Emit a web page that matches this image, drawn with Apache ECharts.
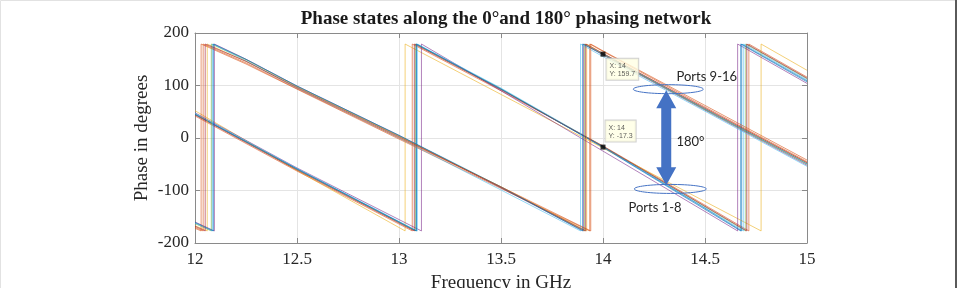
<!DOCTYPE html>
<html>
<head>
<meta charset="utf-8">
<title>Phase states along the 0 and 180 phasing network</title>
<script src="https://cdn.jsdelivr.net/npm/echarts@6/dist/echarts.min.js"></script>
<style>
html, body { margin: 0; padding: 0; background: #fff; }
#chart { width: 959px; height: 288px; }
</style>
</head>
<body>
<div id="chart"></div>
<script>
// ports 1-8, [frequency GHz, phase deg], wraps drawn as two points at same x
let port1 = [[12, 46], [12.5, -59], [13.085, -177], [13.085, 179], [13.5, 94], [14, -18], [14.5, -136], [14.675, -177], [14.675, 179], [15, 107]];
let port2 = [[12, 42], [12.5, -63], [13.065, -177], [13.065, 179], [13.5, 90], [14, -15], [14.5, -128], [14.715, -177], [14.715, 179], [15, 116]];
let port3 = [[12, 52], [12.5, -62], [13.03, -177], [13.03, 179], [13.5, 83], [14, -19], [14.5, -121], [14.775, -177], [14.775, 179], [15, 129]];
let port4 = [[12, 48], [12.5, -57], [13.11, -177], [13.11, 179], [13.5, 90], [14, -25], [14.5, -140], [14.66, -177], [14.66, 179], [15, 104]];
let port5 = [[12, 45], [12.5, -60], [13.08, -177], [13.08, 179], [13.5, 93], [14, -16], [14.5, -131], [14.7, -177], [14.7, 179], [15, 113]];
let port6 = [[12, 47], [12.5, -58], [13.09, -177], [13.09, 179], [13.5, 95], [14, -16], [14.5, -133], [14.69, -177], [14.69, 179], [15, 111]];
let port7 = [[12, 44], [12.5, -61], [13.075, -177], [13.075, 179], [13.5, 92], [14, -16], [14.5, -130], [14.705, -177], [14.705, 179], [15, 114]];
let port8 = [[12, 45], [12.5, -59], [13.085, -177], [13.085, 179], [13.5, 93], [14, -17.3], [14.5, -134], [14.68, -177], [14.68, 179], [15, 109]];

// ports 9-16
let port9 = [[12, -172], [12.03, -177], [12.03, 179], [12.25, 141], [12.5, 93], [13, -2], [13.5, -96], [13.935, -177], [13.935, 179], [14, 165], [14.5, 59], [15, -45]];
let port10 = [[12, -167], [12.06, -177], [12.06, 179], [12.25, 146], [12.5, 97], [13, 3], [13.5, -93], [13.92, -177], [13.92, 179], [14, 161], [14.5, 56], [15, -47]];
let port11 = [[12, -160], [12.095, -177], [12.095, 179], [12.25, 150], [12.5, 99], [13, 5], [13.5, -95], [13.905, -177], [13.905, 179], [14, 158], [14.5, 53], [15, -52]];
let port12 = [[12, -163], [12.08, -177], [12.08, 179], [12.25, 149], [12.5, 98], [13, 4], [13.5, -94], [13.91, -177], [13.91, 179], [14, 159], [14.5, 54], [15, -50]];
let port13 = [[12, -162], [12.085, -177], [12.085, 179], [12.25, 147], [12.5, 95], [13, 0], [13.5, -99], [13.89, -177], [13.89, 179], [14, 155], [14.5, 51], [15, -54]];
let port14 = [[12, -168], [12.05, -177], [12.05, 179], [12.25, 146], [12.5, 96], [13, 2], [13.5, -94], [13.915, -177], [13.915, 179], [14, 161], [14.5, 57], [15, -47]];
let port15 = [[12, -161], [12.09, -177], [12.09, 179], [12.25, 150], [12.5, 99], [13, 5], [13.5, -93], [13.9, -177], [13.9, 179], [14, 159.7], [14.5, 55], [15, -49]];
let port16 = [[12, -170], [12.04, -177], [12.04, 179], [12.25, 143], [12.5, 94], [13, 0], [13.5, -93], [13.94, -177], [13.94, 179], [14, 166], [14.5, 62], [15, -42]];

let portData = [port1, port2, port3, port4, port5, port6, port7, port8,
    port9, port10, port11, port12, port13, port14, port15, port16];
// matlab default line colours
let portColors = ['#0072BD', '#D95319', '#EDB120', '#7E2F8E', '#77AC30', '#4DBEEE', '#A2142F'];

let tipPoints = [[14, 159.7], [14, -17.3]];

let serif = 'Liberation Serif';
let sans = 'Lato';

let myChart = echarts.init(document.getElementById('chart'));

let series = [];
for (let i in portData) {
    series.push({
        name: 'Port ' + (parseInt(i) + 1),
        type: 'line',
        data: portData[i],
        showSymbol: false,
        symbol: 'none',
        animation: false,
        lineStyle: {width: 1, color: portColors[i % 7], opacity: 0.6}
    });
}
series.push({
    type: 'scatter',
    symbol: 'rect',
    symbolSize: 5,
    itemStyle: {color: '#000'},
    animation: false,
    z: 5,
    data: [
        {value: tipPoints[0], label: {position: [6, 7]}},
        {value: tipPoints[1], label: {position: [5, -24]}}
    ],
    label: {
        show: true,
        formatter: function (p) { return 'X: ' + p.value[0] + '\nY: ' + p.value[1]; },
        fontFamily: 'Liberation Sans',
        fontSize: 7,
        lineHeight: 8,
        color: '#333',
        backgroundColor: '#FFFFE4',
        borderColor: '#C4C4C4',
        borderWidth: 1,
        padding: [3, 3, 2, 3]
    }
});

let axisGray = '#8A8A8A';
let option = {
    animation: false,
    title: {
        text: 'Phase states along the 0°and 180° phasing network',
        left: 501,
        top: 5,
        textAlign: 'center',
        textStyle: {fontFamily: serif, fontWeight: 'bold', fontSize: 19, color: '#1a1a1a'}
    },
    grid: {left: 195, right: 152, top: 33, bottom: 45, outerBoundsMode: 'none', containLabel: false},
    xAxis: [{
        type: 'value', min: 12, max: 15, interval: 0.5,
        name: 'Frequency in GHz', nameLocation: 'middle', nameGap: 31,
        nameTextStyle: {fontFamily: serif, fontSize: 19, color: '#262626'},
        axisLine: {show: true, onZero: false, lineStyle: {color: axisGray}},
        axisTick: {show: true, inside: true, length: 5, lineStyle: {color: axisGray}},
        axisLabel: {fontFamily: serif, fontSize: 17, color: '#262626', margin: 8},
        splitLine: {show: true, lineStyle: {color: '#E4E4E4'}}
    }, {
        type: 'value', min: 12, max: 15, interval: 0.5, position: 'top',
        axisLine: {show: true, onZero: false, lineStyle: {color: axisGray}},
        axisTick: {show: true, inside: true, length: 5, lineStyle: {color: axisGray}},
        axisLabel: {show: false},
        splitLine: {show: false}
    }],
    yAxis: [{
        type: 'value', min: -200, max: 200, interval: 100,
        name: 'Phase in degrees', nameLocation: 'middle', nameGap: 43, nameMoveOverlap: false,
        nameTextStyle: {fontFamily: serif, fontSize: 19, color: '#262626'},
        axisLine: {show: true, onZero: false, lineStyle: {color: axisGray}},
        axisTick: {show: true, inside: true, length: 5, lineStyle: {color: axisGray}},
        axisLabel: {fontFamily: serif, fontSize: 17, color: '#262626', margin: 6},
        splitLine: {show: true, lineStyle: {color: '#E4E4E4'}}
    }, {
        type: 'value', min: -200, max: 200, interval: 100, position: 'right',
        axisLine: {show: true, onZero: false, lineStyle: {color: axisGray}},
        axisTick: {show: true, inside: true, length: 5, lineStyle: {color: axisGray}},
        axisLabel: {show: false},
        splitLine: {show: false}
    }],
    series: series
};
myChart.setOption(option);

// annotations placed in data coordinates
function px(x, y) {
    return myChart.convertToPixel({gridIndex: 0}, [x, y]);
}

let annBlue = '#4472C4';
let upEll = px(14.32, 93);
let lowEll = px(14.33, -97);
let arrowTop = px(14.31, 91);
let arrowBot = px(14.31, -90);
let ax = arrowTop[0];
let headLen = 18, headW = 10, shaftW = 5;
let arrowPoints = [
    [ax, arrowTop[1]],
    [ax + headW, arrowTop[1] + headLen],
    [ax + shaftW, arrowTop[1] + headLen],
    [ax + shaftW, arrowBot[1] - headLen],
    [ax + headW, arrowBot[1] - headLen],
    [ax, arrowBot[1]],
    [ax - headW, arrowBot[1] - headLen],
    [ax - shaftW, arrowBot[1] - headLen],
    [ax - shaftW, arrowTop[1] + headLen],
    [ax - headW, arrowTop[1] + headLen]
];
let t916 = px(14.36, 116);
let t180 = px(14.36, -7);
let t18 = px(14.125, -133);

myChart.setOption({
    graphic: [
        {type: 'rect', shape: {x: 0.5, y: 0.5, width: 955, height: 290}, style: {fill: 'none', stroke: '#E2E2E2', lineWidth: 1}, z: 0},
        {type: 'line', shape: {x1: 956, y1: 0, x2: 956, y2: 288}, style: {stroke: '#5A5A5A', lineWidth: 2}},
        {type: 'ellipse', shape: {cx: upEll[0], cy: upEll[1], rx: 35, ry: 4.5}, style: {fill: 'none', stroke: annBlue, lineWidth: 1}, z: 10},
        {type: 'ellipse', shape: {cx: lowEll[0], cy: lowEll[1], rx: 36, ry: 4.5}, style: {fill: 'none', stroke: annBlue, lineWidth: 1}, z: 10},
        {type: 'polygon', shape: {points: arrowPoints}, style: {fill: annBlue}, z: 11},
        {type: 'text', x: t916[0], y: t916[1], style: {text: 'Ports 9-16', font: '13px ' + sans, fill: '#262626', align: 'left', verticalAlign: 'middle'}, z: 12},
        {type: 'text', x: t180[0], y: t180[1], style: {text: '180°', font: '13px ' + sans, fill: '#262626', align: 'left', verticalAlign: 'middle'}, z: 12},
        {type: 'text', x: t18[0], y: t18[1], style: {text: 'Ports 1-8', font: '13px ' + sans, fill: '#262626', align: 'left', verticalAlign: 'middle'}, z: 12}
    ]
});
</script>
</body>
</html>
